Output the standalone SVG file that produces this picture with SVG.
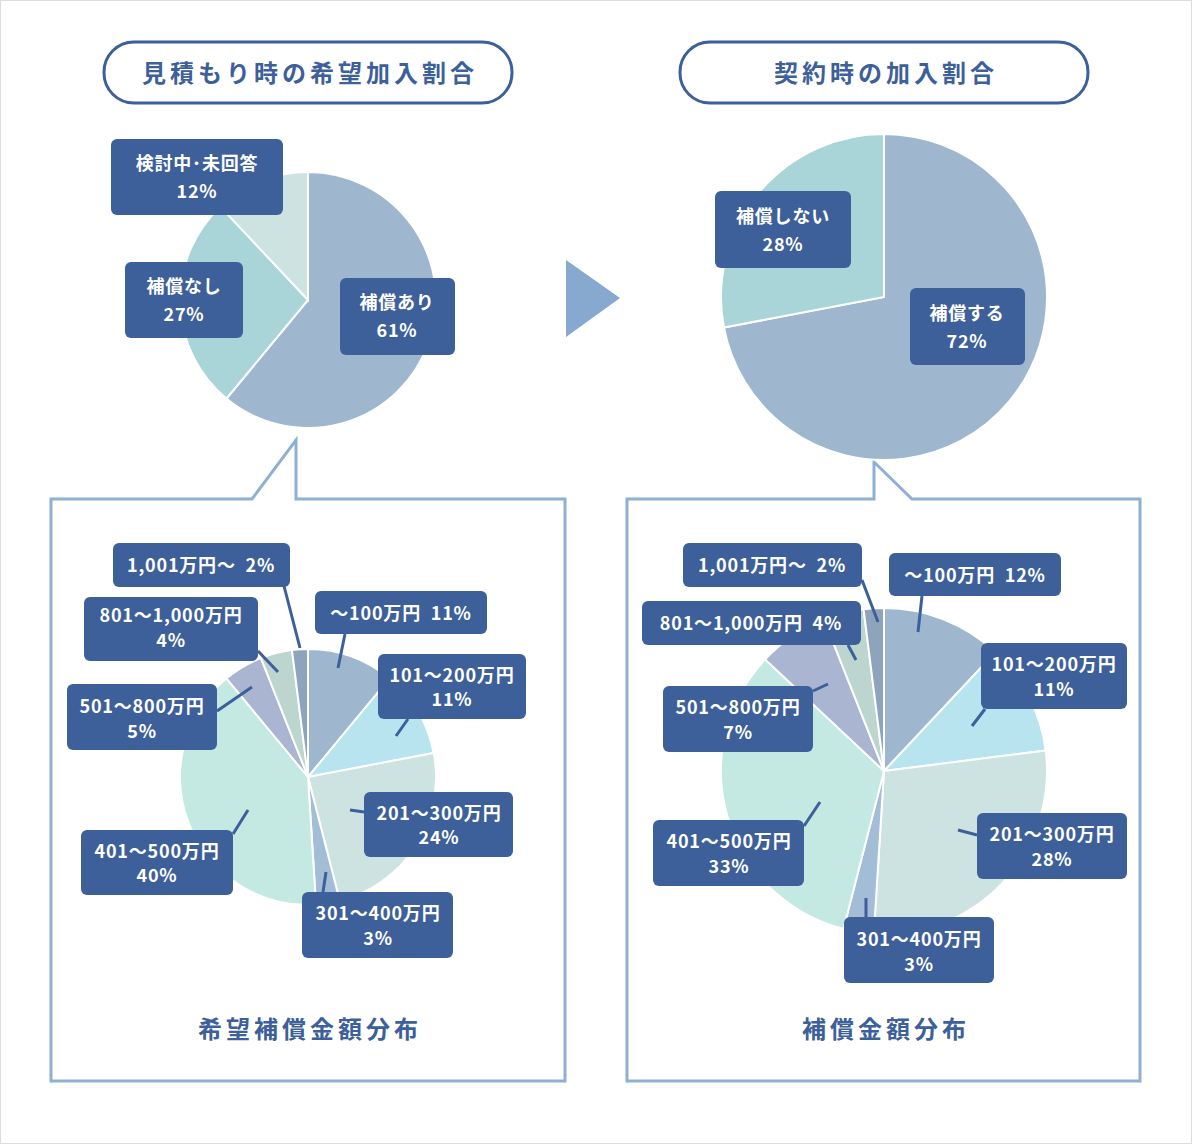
<svg xmlns="http://www.w3.org/2000/svg" width="1192" height="1144" viewBox="0 0 1192 1144">
<style>
.t{font-family:"Noto Sans CJK JP","Noto Sans",sans-serif;font-weight:bold;fill:#fff;font-size:18px;letter-spacing:0.8px;text-anchor:middle;white-space:pre}
.h{font-family:"Noto Sans CJK JP","Noto Sans",sans-serif;font-weight:bold;fill:#3d5f9a;font-size:24px;letter-spacing:4px;text-anchor:middle}
.b{fill:#3d5f9a}
.s path{stroke:#fff;stroke-width:2}
.ln{stroke:#3d5f9a;stroke-width:3;fill:none}
.fr{fill:#fff;stroke:#8eb0d4;stroke-width:3}
.pill{fill:#fff;stroke:#3d5f9a;stroke-width:3}
</style>
<rect x="0.5" y="0.5" width="1191" height="1143" fill="#fff" stroke="#ddd"/>
<g id="title-left"><rect class="pill" x="104" y="42" width="408" height="61" rx="30"/><text class="h" x="310" y="82">見積もり時の希望加入割合</text></g>
<g id="title-right"><rect class="pill" x="680" y="42" width="408" height="61" rx="30"/><text class="h" x="886" y="82">契約時の加入割合</text></g>
<g id="arrow"><polygon points="566,260 620,298 566,337" fill="#87a9cf"/></g>
<g id="frame-left"><path class="fr" d="M51,499 L252,499 L296,440 L296,499 L565,499 L565,1081 L51,1081 Z"/><text class="h" x="310" y="1038">希望補償金額分布</text></g>
<g id="frame-right"><path class="fr" d="M627,499 L874,499 L874,462 L912,499 L1140,499 L1140,1081 L627,1081 Z"/><text class="h" x="886" y="1038">補償金額分布</text></g>
<g id="pie-top-left" class="s">
<path d="M308,300 L308,172 A128,128 0 1 1 226.4,398.6 Z" fill="#9eb7cf"/>
<path d="M308,300 L226.4,398.6 A128,128 0 0 1 220.4,206.7 Z" fill="#a9d4d8"/>
<path d="M308,300 L220.4,206.7 A128,128 0 0 1 308,172 Z" fill="#cde3e1"/>
</g>
<g id="pie-top-right" class="s">
<path d="M884,297 L884,134 A163,163 0 1 1 723.9,327.5 Z" fill="#9eb7cf"/>
<path d="M884,297 L723.9,327.5 A163,163 0 0 1 884,134 Z" fill="#a9d4d8"/>
</g>
<g id="pie-bottom-left" class="s">
<path d="M308,777 L308,649 A128,128 0 0 1 389.6,678.4 Z" fill="#9eb7cf"/>
<path d="M308,777 L389.6,678.4 A128,128 0 0 1 433.7,753 Z" fill="#b8e4ef"/>
<path d="M308,777 L433.7,753 A128,128 0 0 1 339.8,901 Z" fill="#cde3e1"/>
<path d="M308,777 L339.8,901 A128,128 0 0 1 316,904.7 Z" fill="#a3bdd6"/>
<path d="M308,777 L316,904.7 A128,128 0 0 1 226.4,678.4 Z" fill="#c4e8e2"/>
<path d="M308,777 L226.4,678.4 A128,128 0 0 1 260.9,658 Z" fill="#aab5d2"/>
<path d="M308,777 L260.9,658 A128,128 0 0 1 292,650 Z" fill="#bcd6cf"/>
<path d="M308,777 L292,650 A128,128 0 0 1 308,649 Z" fill="#8ea4bd"/>
</g>
<g id="pie-bottom-right" class="s">
<path d="M884,771 L884,608 A163,163 0 0 1 995.6,652.2 Z" fill="#9eb7cf"/>
<path d="M884,771 L995.6,652.2 A163,163 0 0 1 1045.7,750.6 Z" fill="#b8e4ef"/>
<path d="M884,771 L1045.7,750.6 A163,163 0 0 1 873.8,933.7 Z" fill="#cde3e1"/>
<path d="M884,771 L873.8,933.7 A163,163 0 0 1 843.5,928.9 Z" fill="#a3bdd6"/>
<path d="M884,771 L843.5,928.9 A163,163 0 0 1 765.2,659.4 Z" fill="#c4e8e2"/>
<path d="M884,771 L765.2,659.4 A163,163 0 0 1 824,619.4 Z" fill="#aab5d2"/>
<path d="M884,771 L824,619.4 A163,163 0 0 1 863.6,609.3 Z" fill="#bcd6cf"/>
<path d="M884,771 L863.6,609.3 A163,163 0 0 1 884,608 Z" fill="#8ea4bd"/>
</g>
<g id="connectors">
<path class="ln" d="M284,586 L300,648 M345,634 L338,668 M258,651 L278,672 M408,719 L396,736 M217,711 L252,687 M364,812 L350,810 M233,834 L248,810 M323,892 L326,872"/>
<path class="ln" d="M862,580 L878,622 M922,596 L918,632 M848,645 L856,660 M985,709 L972,726 M813,691 L828,684 M977,835 L958,830 M804,826 L820,802 M866,917 L866,898"/>
</g>
<g id="lbl-tl-1"><rect class="b" x="111" y="139" width="172" height="76" rx="6"/><text class="t" x="197" y="170">検討中･未回答</text><text class="t" x="197" y="198">12%</text></g>
<g id="lbl-tl-2"><rect class="b" x="125" y="262" width="118" height="76" rx="6"/><text class="t" x="184" y="293">補償なし</text><text class="t" x="184" y="321">27%</text></g>
<g id="lbl-tl-3"><rect class="b" x="340" y="278" width="115" height="77" rx="6"/><text class="t" x="397" y="309">補償あり</text><text class="t" x="397" y="337">61%</text></g>
<g id="lbl-tr-1"><rect class="b" x="715" y="191" width="136" height="77" rx="6"/><text class="t" x="783" y="223">補償しない</text><text class="t" x="783" y="251">28%</text></g>
<g id="lbl-tr-2"><rect class="b" x="910" y="288" width="115" height="77" rx="6"/><text class="t" x="967" y="320">補償する</text><text class="t" x="967" y="348">72%</text></g>
<g id="lbl-bl-1"><rect class="b" x="113" y="543" width="177" height="44" rx="6"/><text class="t" x="201" y="572">1,001万円〜  2%</text></g>
<g id="lbl-bl-2"><rect class="b" x="315" y="591" width="172" height="43" rx="6"/><text class="t" x="401" y="620">〜100万円  11%</text></g>
<g id="lbl-bl-3"><rect class="b" x="84" y="597" width="174" height="64" rx="6"/><text class="t" x="171" y="622">801〜1,000万円</text><text class="t" x="171" y="647">4%</text></g>
<g id="lbl-bl-4"><rect class="b" x="378" y="654" width="148" height="65" rx="6"/><text class="t" x="452" y="682">101〜200万円</text><text class="t" x="452" y="706">11%</text></g>
<g id="lbl-bl-5"><rect class="b" x="67" y="684" width="150" height="66" rx="6"/><text class="t" x="142" y="713">501〜800万円</text><text class="t" x="142" y="738">5%</text></g>
<g id="lbl-bl-6"><rect class="b" x="364" y="792" width="149" height="65" rx="6"/><text class="t" x="439" y="820">201〜300万円</text><text class="t" x="439" y="844">24%</text></g>
<g id="lbl-bl-7"><rect class="b" x="81" y="830" width="152" height="65" rx="6"/><text class="t" x="157" y="858">401〜500万円</text><text class="t" x="157" y="882">40%</text></g>
<g id="lbl-bl-8"><rect class="b" x="302" y="892" width="151" height="66" rx="6"/><text class="t" x="378" y="920">301〜400万円</text><text class="t" x="378" y="945">3%</text></g>
<g id="lbl-br-1"><rect class="b" x="683" y="543" width="179" height="44" rx="6"/><text class="t" x="772" y="572">1,001万円〜  2%</text></g>
<g id="lbl-br-2"><rect class="b" x="889" y="553" width="172" height="43" rx="6"/><text class="t" x="975" y="582">〜100万円  12%</text></g>
<g id="lbl-br-3"><rect class="b" x="642" y="601" width="219" height="44" rx="6"/><text class="t" x="751" y="630">801〜1,000万円  4%</text></g>
<g id="lbl-br-4"><rect class="b" x="981" y="643" width="146" height="66" rx="6"/><text class="t" x="1054" y="671">101〜200万円</text><text class="t" x="1054" y="696">11%</text></g>
<g id="lbl-br-5"><rect class="b" x="663" y="686" width="150" height="66" rx="6"/><text class="t" x="738" y="714">501〜800万円</text><text class="t" x="738" y="739">7%</text></g>
<g id="lbl-br-6"><rect class="b" x="977" y="813" width="150" height="66" rx="6"/><text class="t" x="1052" y="841">201〜300万円</text><text class="t" x="1052" y="866">28%</text></g>
<g id="lbl-br-7"><rect class="b" x="653" y="820" width="151" height="66" rx="6"/><text class="t" x="729" y="848">401〜500万円</text><text class="t" x="729" y="873">33%</text></g>
<g id="lbl-br-8"><rect class="b" x="844" y="917" width="150" height="66" rx="6"/><text class="t" x="919" y="946">301〜400万円</text><text class="t" x="919" y="971">3%</text></g>
</svg>
